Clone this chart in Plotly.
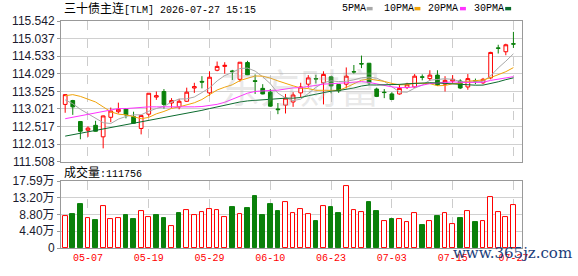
import plotly.graph_objects as go
import pandas as pd

# ---------------- data ----------------
dates = [
    "2026-04-29", "2026-04-30", "2026-05-06", "2026-05-07", "2026-05-08",
    "2026-05-11", "2026-05-12", "2026-05-13", "2026-05-14", "2026-05-15",
    "2026-05-18", "2026-05-19", "2026-05-20", "2026-05-21", "2026-05-22",
    "2026-05-25", "2026-05-26", "2026-05-27", "2026-05-28", "2026-05-29",
    "2026-06-01", "2026-06-02", "2026-06-03", "2026-06-04", "2026-06-05",
    "2026-06-08", "2026-06-09", "2026-06-10", "2026-06-11", "2026-06-12",
    "2026-06-15", "2026-06-16", "2026-06-17", "2026-06-18", "2026-06-22",
    "2026-06-23", "2026-06-24", "2026-06-25", "2026-06-26", "2026-06-29",
    "2026-06-30", "2026-07-01", "2026-07-02", "2026-07-03", "2026-07-06",
    "2026-07-07", "2026-07-08", "2026-07-09", "2026-07-10", "2026-07-13",
    "2026-07-14", "2026-07-15", "2026-07-16", "2026-07-17", "2026-07-20",
    "2026-07-21", "2026-07-22", "2026-07-23", "2026-07-24", "2026-07-27",
]
opens = [113.15, 113.26, 112.66, 112.41, 112.55, 112.22, 112.78, 112.94, 113.03, 112.80,
         112.46, 112.87, 113.36, 113.52, 113.19, 113.08, 113.24, 113.62, 113.81, 113.48,
         114.13, 114.24, 114.11, 113.87, 114.35, 113.83, 113.61, 113.50, 113.02, 113.13,
         113.22, 113.48, 113.73, 113.89, 113.77, 113.94, 113.72, 113.73, 114.09, 114.32,
         114.33, 113.59, 113.50, 113.45, 113.45, 113.64, 113.65, 113.94, 113.89, 113.99,
         113.73, 113.82, 113.82, 113.65, 113.83, 113.77, 113.91, 114.77, 114.66, 114.89]
highs = [113.44, 113.28, 112.67, 112.52, 112.68, 112.83, 113.06, 113.20, 113.04, 112.94,
         112.84, 113.47, 113.52, 113.59, 113.33, 113.31, 113.63, 113.77, 113.96, 114.10,
         114.38, 114.36, 114.14, 114.36, 114.40, 114.01, 113.73, 113.59, 113.19, 113.45,
         113.50, 113.77, 113.99, 114.00, 114.10, 113.96, 113.73, 114.21, 114.28, 114.55,
         114.34, 113.63, 113.59, 113.50, 113.73, 113.77, 114.02, 114.01, 114.13, 114.13,
         113.96, 113.99, 113.87, 114.02, 113.89, 113.91, 114.66, 114.86, 114.89, 115.23]
lows = [112.91, 112.85, 112.15, 112.22, 112.37, 111.89, 112.64, 112.89, 112.75, 112.60,
        112.29, 112.80, 113.28, 113.03, 113.05, 113.01, 113.22, 113.48, 113.61, 113.40,
        114.10, 114.03, 113.85, 113.80, 113.99, 113.45, 113.44, 113.08, 112.87, 112.89,
        113.08, 113.36, 113.63, 113.75, 113.15, 113.47, 113.48, 113.61, 114.03, 114.19,
        113.70, 113.36, 113.33, 113.29, 113.43, 113.59, 113.63, 113.84, 113.82, 113.68,
        113.52, 113.77, 113.59, 113.57, 113.73, 113.73, 113.87, 114.61, 114.56, 114.77]
closes = [113.43, 113.08, 112.38, 112.47, 112.38, 112.82, 112.96, 113.01, 112.85, 112.61,
          112.83, 113.47, 113.40, 113.15, 113.26, 113.24, 113.50, 113.66, 113.79, 113.93,
          114.24, 114.27, 114.09, 114.36, 114.00, 113.81, 113.45, 113.10, 113.00, 113.33,
          113.42, 113.65, 113.91, 113.88, 114.01, 113.68, 113.54, 113.96, 114.08, 114.31,
          113.77, 113.38, 113.49, 113.29, 113.61, 113.73, 113.96, 113.93, 113.99, 113.71,
          113.84, 113.87, 113.62, 113.89, 113.82, 113.87, 114.64, 114.76, 114.86, 114.88]
volumes = [84100, 89200, 115600, 78200, 73900, 109600, 76500, 79000, 86700, 76500,
           96900, 81600, 86700, 79000, 58600, 92600, 99400, 86700, 94300, 102000,
           99400, 81600, 107100, 89200, 104500, 137700, 86700, 114700, 96900, 119800,
           91800, 102000, 89200, 71400, 109600, 107100, 91800, 163100, 99400, 94300,
           119800, 96900, 70500, 76500, 76500, 68800, 91800, 61200, 71400, 84100,
           91800, 63700, 79000, 96900, 68800, 71400, 135100, 94300, 81600, 111756]

# moving-average values at the start of the window (history before the first bar)
ma5_head = [113.28, 113.17, 113.01, 112.89]
ma10_head = [113.40, 113.43, 113.38, 113.31, 113.22, 113.08, 112.94, 112.87, 112.85]
ma20_head = [112.74, 112.78, 112.83, 112.86, 112.89, 112.94, 112.99, 113.03, 113.03, 113.05,
             113.06, 113.08, 113.08, 113.08, 113.07, 113.06, 113.07, 113.08, 113.09]
ma30_head = [112.24, 112.28, 112.32, 112.36, 112.40, 112.44, 112.48, 112.52, 112.56, 112.60,
             112.64, 112.68, 112.72, 112.76, 112.80, 112.84, 112.88, 112.93, 112.98, 113.03,
             113.08, 113.13, 113.18, 113.22, 113.25, 113.27, 113.29, 113.30, 113.32]

price_ticks = [111.508, 112.013, 112.517, 113.021, 113.525, 114.029, 114.533, 115.037, 115.542]
vol_tickvals = [0, 44000, 88000, 132000, 175900]
vol_ticktext = ["0", "4.40万", "8.80万", "13.20万", "17.59万"]
label_dates = ["2026-05-07", "2026-05-19", "2026-05-29", "2026-06-10",
               "2026-06-23", "2026-07-03", "2026-07-15", "2026-07-27"]

ma_names = ["5PMA", "10PMA", "20PMA", "30PMA"]
ma_colors = ["#a8a8a8", "#f0a30a", "#ff33ff", "#0b6b2e"]

# ---------------- derived ----------------
s = pd.Series(closes)
def ma(n, head):
    vals = s.rolling(n).mean().round(4).tolist()
    vals[:len(head)] = head
    return vals
mas = [ma(5, ma5_head), ma(10, ma10_head), ma(20, ma20_head), ma(30, ma30_head)]

RED = "#ff0000"
GREEN = "#0a800a"
vol_up = [closes[0] >= opens[0]] + [closes[i] >= closes[i - 1] for i in range(1, len(closes))]
vol_fill = ["#ffffff" if u else GREEN for u in vol_up]
vol_line = [RED if u else GREEN for u in vol_up]

# ---------------- figure ----------------
fig = go.Figure()
for name, col, vals in zip(ma_names, ma_colors, mas):
    fig.add_trace(go.Scatter(x=dates, y=vals, mode="lines", name=name,
                             line=dict(color=col, width=1), xaxis="x", yaxis="y",
                             showlegend=False, hoverinfo="skip"))
fig.add_trace(go.Candlestick(
    x=dates, open=opens, high=highs, low=lows, close=closes,
    increasing=dict(line=dict(color=RED, width=1), fillcolor="#ffffff"),
    decreasing=dict(line=dict(color=GREEN, width=1), fillcolor=GREEN),
    whiskerwidth=0, xaxis="x", yaxis="y", showlegend=False))
fig.add_trace(go.Bar(
    x=dates, y=volumes, width=0.62,
    marker=dict(color=vol_fill, line=dict(color=vol_line, width=1)),
    xaxis="x2", yaxis="y2", showlegend=False))

W, H = 578, 276
L, R, T, B = 56, 56, 21, 21
pw, ph = W - L - R, H - T - B
def px(x):
    return (x - L) / pw
def py(y):
    return (H - B - y) / ph

mono = "Liberation Mono, Noto Sans CJK SC, monospace"
sans = "Liberation Sans, Arial, Noto Sans CJK SC, sans-serif"

xr = [-0.55, len(dates) - 1 + 1.13]
common_x = dict(type="category", range=xr, tickvals=label_dates,
                showgrid=True, gridcolor="#cccccc", griddash="dash", gridwidth=1,
                showline=True, linecolor="#999999", linewidth=1, mirror=True,
                ticks="", zeroline=False)
fig.update_layout(
    width=W, height=H, margin=dict(l=L, r=R, t=T, b=B),
    paper_bgcolor="#ffffff", plot_bgcolor="#ffffff",
    bargap=0, hovermode=False,
    xaxis=dict(common_x, domain=[0, 1], anchor="y", showticklabels=False,
               rangeslider=dict(visible=False)),
    xaxis2=dict(common_x, domain=[0, 1], anchor="y2", matches="x",
                ticktext=[d[5:] for d in label_dates], showticklabels=True,
                tickfont=dict(family=mono, size=10, color=RED)),
    yaxis=dict(domain=[py(166), 1], range=[price_ticks[0], price_ticks[-1]],
               tickvals=price_ticks, ticktext=[f"{v:.3f}" for v in price_ticks],
               tickfont=dict(family=sans, size=12, color="#1a1a2e"),
               showgrid=True, gridcolor="#d0d0d0", gridwidth=1,
               showline=True, linecolor="#999999", mirror=True,
               ticks="outside", ticklen=3, tickcolor="#999999", zeroline=False),
    yaxis2=dict(domain=[0, py(186)], range=[0, vol_tickvals[-1]],
                tickvals=vol_tickvals, ticktext=vol_ticktext,
                tickfont=dict(family=sans, size=12, color="#1a1a2e"),
                showgrid=True, gridcolor="#d0d0d0", gridwidth=1,
                showline=True, linecolor="#999999", mirror=True,
                ticks="outside", ticklen=3, tickcolor="#999999", zeroline=False),
)

ann = []
ann.append(dict(xref="paper", yref="paper", x=px(57), y=py(8.5), xanchor="left", yanchor="middle",
                text='<span style="font-size:12px">三十债主连</span>[TLM] 2026-07-27 15:15',
                showarrow=False, font=dict(family=mono, size=10, color="#000000")))
ann.append(dict(xref="paper", yref="paper", x=px(57), y=py(178), xanchor="left", yanchor="middle",
                text=f'<span style="font-size:12px">成交量</span>:{volumes[-1]}',
                showarrow=False, font=dict(family=mono, size=10, color="#000000")))
leg_x = [338, 380, 425, 471.7]
sq_x = [365, 413.3, 459.3, 505]
shapes = []
for name, col, lx, sx in zip(ma_names, ma_colors, leg_x, sq_x):
    ann.append(dict(xref="paper", yref="paper", x=px(lx), y=py(8.5), xanchor="left", yanchor="middle",
                    text=name, showarrow=False, font=dict(family=mono, size=10, color="#000000")))
    shapes.append(dict(type="rect", xref="paper", yref="paper", x0=px(sx), x1=px(sx + 6),
                       y0=py(10), y1=py(6.5), fillcolor=col, line=dict(width=0)))
# watermarks
ann.append(dict(xref="paper", yref="paper", x=px(298), y=py(88), xanchor="center", yanchor="middle",
                text="东方财富", showarrow=False,
                font=dict(family="Noto Sans CJK SC", size=40, color="rgba(170,170,170,0.25)")))
ann.append(dict(xref="paper", yref="paper", x=px(512), y=py(260), xanchor="center", yanchor="middle",
                text="www.365jz.com", showarrow=False,
                font=dict(family="DejaVu Serif", size=15, color="#1b3d7a")))
fig.update_layout(annotations=ann, shapes=shapes)

fig.write_html("out.html")
